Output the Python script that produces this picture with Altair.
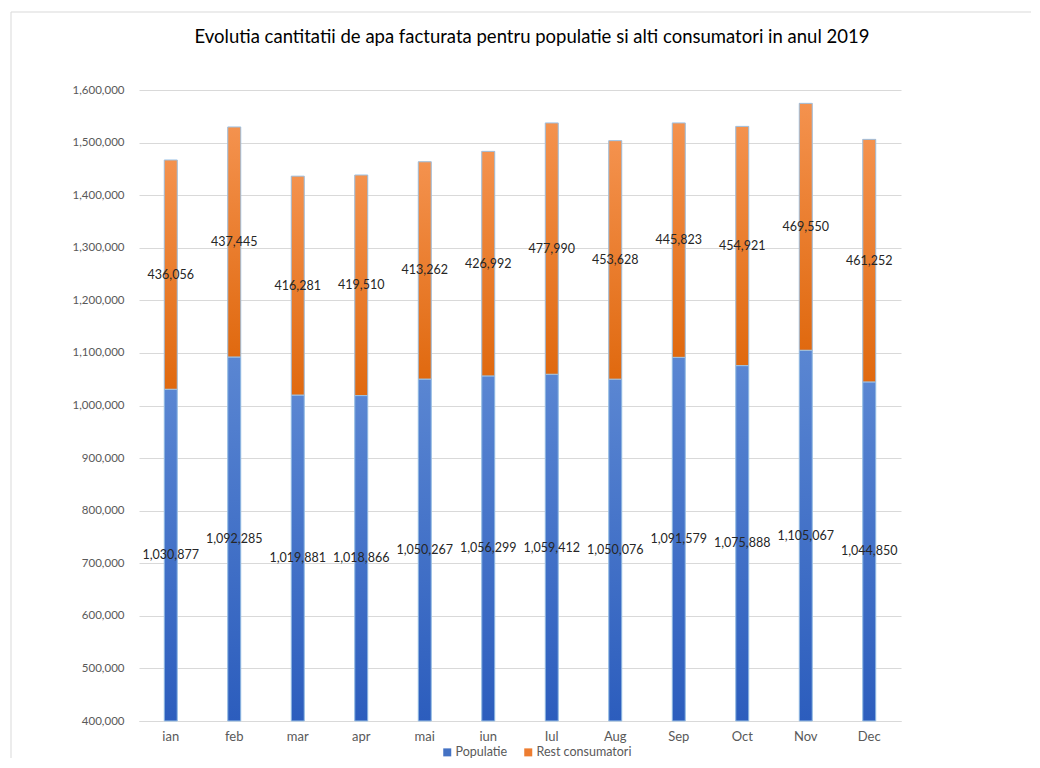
import altair as alt
import pandas as pd

MONTHS = ["ian", "feb", "mar", "apr", "mai", "iun", "Iul", "Aug", "Sep", "Oct", "Nov", "Dec"]
POPULATIE = [1030877, 1092285, 1019881, 1018866, 1050267, 1056299,
             1059412, 1050076, 1091579, 1075888, 1105067, 1044850]
REST = [436056, 437445, 416281, 419510, 413262, 426992,
        477990, 453628, 445823, 454921, 469550, 461252]
SERIES = ["Populatie", "Rest consumatori"]
Y_MIN, Y_MAX = 400000, 1600000
Y_TICKS = list(range(Y_MIN, Y_MAX + 1, 100000))
TITLE = "Evolutia cantitatii de apa facturata pentru populatie si alti consumatori in  anul 2019"

rows = []
for m, p, r in zip(MONTHS, POPULATIE, REST):
    rows.append({"month": m, "series": SERIES[0], "value": p, "lo": Y_MIN, "hi": p})
    rows.append({"month": m, "series": SERIES[1], "value": r, "lo": p, "hi": p + r})
df = pd.DataFrame(rows)

FONT = "Lato"
BLUE, ORANGE = "#4472C4", "#ED7D31"

x_enc = alt.X("month:N", sort=MONTHS, title=None,
              axis=alt.Axis(labelAngle=0, labelColor="#595959", labelFont=FONT, labelFontSize=13,
                            domainColor="#D9D9D9", ticks=False, labelPadding=9))
y_scale = alt.Scale(domain=[Y_MIN, Y_MAX], zero=False, nice=False)
y_enc = alt.Y("hi:Q", scale=y_scale, title=None,
              axis=alt.Axis(values=Y_TICKS, format=",d", labelColor="#595959", labelFont=FONT,
                            labelFontSize=11.5, domain=False, ticks=False, gridColor="#D9D9D9",
                            labelPadding=15))

base = alt.Chart(df)

solid = base.mark_bar(size=13).encode(
    x=x_enc, y=y_enc, y2="lo:Q",
    color=alt.Color("series:N", scale=alt.Scale(domain=SERIES, range=[BLUE, ORANGE]),
                    legend=alt.Legend(title=None, orient="none", direction="horizontal",
                                      legendX=302, legendY=656, symbolType="square",
                                      symbolSize=64, labelFont=FONT, labelFontSize=12.5,
                                      labelColor="#595959", columnPadding=14, labelOffset=2)),
)

def grad(top, bottom):
    return alt.Gradient(gradient="linear",
                        stops=[alt.GradientStop(color=top, offset=0),
                               alt.GradientStop(color=bottom, offset=1)],
                        x1=0, x2=0, y1=0, y2=1)

pop_bars = base.transform_filter(alt.datum.series == SERIES[0]).mark_bar(
    size=13, fill=grad("#5A86D2", "#2C5DBD"), stroke="#9DC3E6", strokeWidth=1
).encode(x=x_enc, y=y_enc, y2="lo:Q")

rest_bars = base.transform_filter(alt.datum.series == SERIES[1]).mark_bar(
    size=13, fill=grad("#F4924E", "#E0690F"), stroke="#9DC3E6", strokeWidth=1
).encode(x=x_enc, y=y_enc, y2="lo:Q")

labels = base.transform_calculate(mid="(datum.lo + datum.hi) / 2").mark_text(
    font=FONT, fontSize=12.5, color="#262626", baseline="middle", align="center"
).encode(x=x_enc, y=alt.Y("mid:Q", scale=y_scale), text=alt.Text("value:Q", format=",d"))

one = pd.DataFrame({"k": [0]})
border_left = alt.Chart(one).mark_rule(color="#D9D9D9", strokeWidth=1).encode(
    x=alt.value(-128), y=alt.value(-78), y2=alt.value(668))
border_top = alt.Chart(one).mark_rule(color="#D9D9D9", strokeWidth=1).encode(
    x=alt.value(-128), x2=alt.value(892), y=alt.value(-78))

chart = alt.layer(border_left, border_top, solid, pop_bars, rest_bars, labels).properties(
    width=762, height=631,
    padding={"left": 2, "top": 3, "right": 0, "bottom": 0},
    title=alt.Title(TITLE, font=FONT, fontSize=18.5, fontWeight="normal", color="#000000",
                    anchor="middle", dx=12, offset=-35),
).configure_view(stroke=None)

chart.save("out.html", embed_options={"renderer": "svg", "actions": False})
